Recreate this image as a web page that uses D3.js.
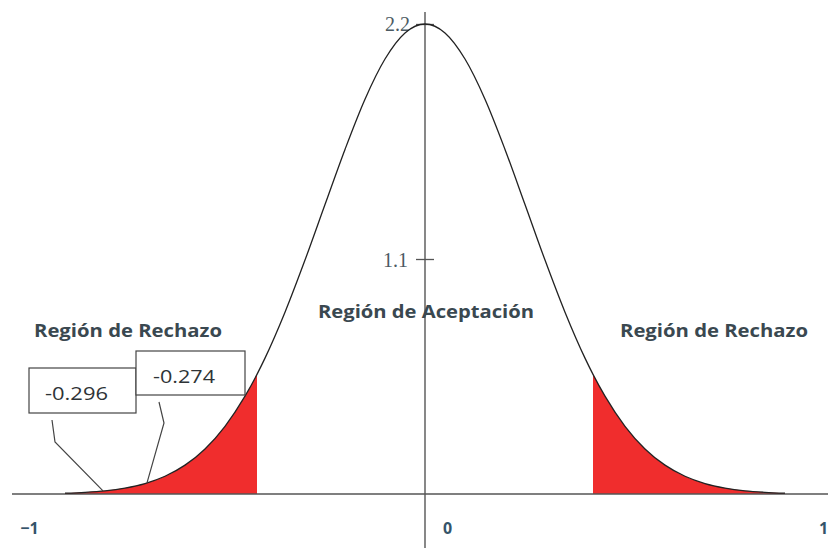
<!DOCTYPE html>
<html lang="es">
<head>
<meta charset="UTF-8">
<title>Regiones de rechazo</title>
<script src="https://d3js.org/d3.v7.min.js"></script>
<style>
  body { margin: 0; background: #fff; }
  .region-label { font-family: "Open Sans", Lato, sans-serif; font-weight: 700; font-size: 18px; fill: #3a4850; }
  .box-label { font-family: "Open Sans", Lato, sans-serif; font-size: 19px; fill: #2e3336; }
  .y-tick text { font-family: "Liberation Serif", "DejaVu Serif", serif; font-size: 20px; fill: #4b5a63; }
  .x-tick text { font-family: "Open Sans", Lato, sans-serif; font-weight: 700; font-size: 16px; fill: #34546a; }
</style>
</head>
<body>
<svg id="chart" width="828" height="548"></svg>
<script>
  // curve (x in axis units, height in y units)
  const curveX = [-0.9, -0.85, -0.8, -0.75, -0.7, -0.65, -0.6, -0.55, -0.5, -0.45, -0.42, -0.4, -0.35, -0.3, -0.25, -0.2, -0.15, -0.1, -0.05, 0,
                  0.05, 0.1, 0.15, 0.2, 0.25, 0.3, 0.35, 0.4, 0.42, 0.45, 0.5, 0.55, 0.6, 0.65, 0.7, 0.75, 0.8, 0.85, 0.9];
  const curveY = [0.004, 0.008, 0.015, 0.028, 0.049, 0.083, 0.135, 0.211, 0.317, 0.458, 0.56, 0.636, 0.851, 1.095, 1.355, 1.613, 1.848, 2.036, 2.158, 2.2,
                  2.158, 2.036, 1.848, 1.613, 1.355, 1.095, 0.851, 0.636, 0.56, 0.458, 0.317, 0.211, 0.135, 0.083, 0.049, 0.028, 0.015, 0.008, 0.004];
  const criticalLow = -0.42;
  const criticalHigh = 0.42;
  const xTicks = [-1, 0, 1];
  const yTicks = [1.1, 2.2];
  const regionLabels = ["Región de Rechazo", "Región de Aceptación", "Región de Rechazo"];
  const boxLabels = ["-0.296", "-0.274"];
  const boxTargets = [-0.805, -0.695];

  const svg = d3.select("#chart");
  const x = d3.scaleLinear().domain([-1, 1]).range([25, 825]);
  const y = d3.scaleLinear().domain([0, 2.2]).range([494, 24]);

  const points = curveX.map((v, i) => ({ x: v, y: curveY[i] }));

  const area = d3.area()
      .x(d => x(d.x))
      .y0(y(0))
      .y1(d => y(d.y))
      .curve(d3.curveMonotoneX);

  const line = d3.line()
      .x(d => x(d.x))
      .y(d => y(d.y))
      .curve(d3.curveMonotoneX);

  // rejection areas
  svg.append("path")
      .datum(points.filter(d => d.x <= criticalLow))
      .attr("d", area)
      .attr("fill", "#f02d2d");
  svg.append("path")
      .datum(points.filter(d => d.x >= criticalHigh))
      .attr("d", area)
      .attr("fill", "#f02d2d");

  // axes
  svg.append("line")
      .attr("x1", 12).attr("x2", 828)
      .attr("y1", y(0)).attr("y2", y(0))
      .attr("stroke", "#555").attr("stroke-width", 1.4);
  svg.append("line")
      .attr("x1", x(0)).attr("x2", x(0))
      .attr("y1", 12).attr("y2", 548)
      .attr("stroke", "#555").attr("stroke-width", 1.4);

  const yAxis = svg.append("g")
      .attr("class", "y-tick")
      .attr("transform", `translate(${x(0)},0)`)
      .call(d3.axisLeft(y).tickValues(yTicks).tickSize(9).tickPadding(8).tickFormat(d3.format(".1f")));
  yAxis.select(".domain").remove();
  yAxis.selectAll(".tick line").attr("x1", 9).attr("stroke", "#555").attr("stroke-width", 1.3);
  yAxis.selectAll(".tick text").attr("dy", "0.35em");
  yAxis.selectAll(".tick").filter(d => d === 2.2).select("text").attr("dx", 2).attr("dy", "0.3em");

  const xAxis = svg.append("g")
      .attr("class", "x-tick")
      .attr("transform", `translate(0,${y(0)})`)
      .call(d3.axisBottom(x).tickValues(xTicks).tickSize(0).tickPadding(29).tickFormat(d3.format("d")));
  xAxis.select(".domain").remove();
  xAxis.selectAll(".tick text")
      .attr("dx", d => d === 0 ? 22 : d === 1 ? -2 : 4);

  // density curve
  svg.append("path")
      .datum(points)
      .attr("d", line)
      .attr("fill", "none")
      .attr("stroke", "#222")
      .attr("stroke-width", 1.3);

  // region labels
  const labelPos = [[34, 337, 188], [318, 318, 216], [620, 337, 188]];
  svg.selectAll(".region-label")
      .data(regionLabels)
      .enter().append("text")
      .attr("class", "region-label")
      .attr("x", (d, i) => labelPos[i][0])
      .attr("y", (d, i) => labelPos[i][1])
      .attr("textLength", (d, i) => labelPos[i][2])
      .attr("lengthAdjust", "spacingAndGlyphs")
      .text(d => d);

  // annotation boxes with leader lines
  const boxes = [
    { x: 29, y: 368, w: 107, h: 45, tx: 45, ty: 400, len: 63, bend: [[52, 420], [55, 442]] },
    { x: 136, y: 351, w: 109, h: 44, tx: 153, ty: 383, len: 62, bend: [[159, 402], [164, 423]] }
  ];
  boxes.forEach((b, i) => {
    svg.append("rect")
        .attr("x", b.x).attr("y", b.y)
        .attr("width", b.w).attr("height", b.h)
        .attr("fill", "#fff")
        .attr("stroke", "#444").attr("stroke-width", 1.2);
    svg.append("text")
        .attr("class", "box-label")
        .attr("x", b.tx).attr("y", b.ty)
        .attr("textLength", b.len)
        .attr("lengthAdjust", "spacingAndGlyphs")
        .text(boxLabels[i]);
    const tx = boxTargets[i];
    const ty = d3.scaleLinear().domain(curveX).range(curveY)(tx);
    svg.append("polyline")
        .attr("points", [...b.bend, [x(tx), y(ty)]].map(p => p.join(",")).join(" "))
        .attr("fill", "none")
        .attr("stroke", "#444").attr("stroke-width", 1.2);
  });
</script>
</body>
</html>
